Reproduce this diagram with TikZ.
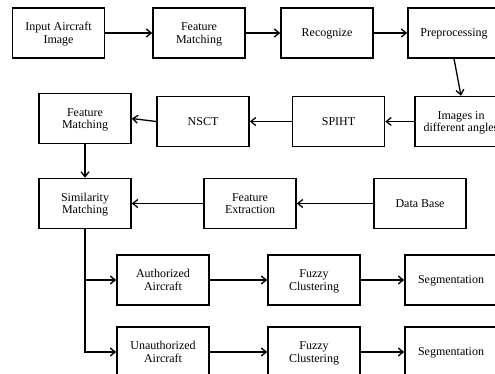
\documentclass[tikz,border=0pt]{standalone}
\usepackage{fontspec}
\setmainfont{Liberation Serif}
\usepackage{tikz}
\usetikzlibrary{arrows.meta}

\begin{document}
\begin{tikzpicture}[x=1pt,y=-1pt,
  box/.style={draw, line width=1.5pt, minimum width=92pt, minimum height=50pt, inner sep=1pt, text depth=-2pt, align=center, font=\fontsize{12}{12.6}\selectfont},
  arr/.style={line width=1.3pt, -{Straight Barb[length=5pt,width=8pt,line width=1.3pt]}}]
\clip (0,0) rectangle (495,374);
\fill[white] (0,0) rectangle (495,374);
% top row
\node[box] (inp) at (58.5,33) {Input Aircraft\\Image};
\node[box] (fm1) at (199,33) {Feature\\Matching};
\node[box] (rec) at (327,33) {Recognize};
\node[box] (pre) at (454,33) {Preprocessing};
% second row
\node[box] (img) at (461,121.5) {Images in\\different angles};
\node[box] (spiht) at (338.5,121.5) {SPIHT};
\node[box] (nsct) at (203,121.5) {NSCT};
\node[box] (fm2) at (85,118.5) {Feature\\Matching};
% third row
\node[box] (sim) at (85,203.5) {Similarity\\Matching};
\node[box] (fext) at (250,203.5) {Feature\\Extraction};
\node[box] (db) at (420,203.5) {Data Base};
% outputs
\node[box] (auth) at (163,280) {Authorized\\Aircraft};
\node[box] (fz1) at (314,280) {Fuzzy\\Clustering};
\node[box] (seg1) at (451,280) {Segmentation};
\node[box] (unauth) at (163,352) {Unauthorized\\Aircraft};
\node[box] (fz2) at (314,352) {Fuzzy\\Clustering};
\node[box] (seg2) at (451,352) {Segmentation};

\draw[arr] (inp) -- (fm1);
\draw[arr] (fm1) -- (rec);
\draw[arr] (rec) -- (pre);
\draw[arr] (pre.south) -- (img.north);
\draw[arr] (img) -- (spiht);
\draw[arr] (spiht) -- (nsct);
\draw[arr] (nsct.west) -- (fm2.east);
\draw[arr] (fm2) -- (sim);
\draw[arr] (db) -- (fext);
\draw[arr] (fext) -- (sim);
\draw[arr] (sim.south) |- (auth.west);
\draw[arr] (sim.south) |- (unauth.west);
\draw[arr] (auth) -- (fz1);
\draw[arr] (fz1) -- (seg1);
\draw[arr] (unauth) -- (fz2);
\draw[arr] (fz2) -- (seg2);
\end{tikzpicture}
\end{document}
